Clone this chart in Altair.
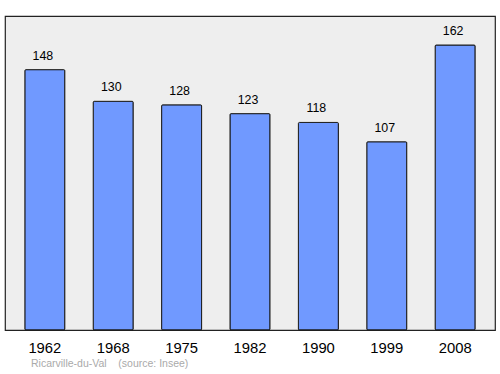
import altair as alt
import pandas as pd

years = ["1962", "1968", "1975", "1982", "1990", "1999", "2008"]
population = [148, 130, 128, 123, 118, 107, 162]
footer = "Ricarville-du-Val\u00a0\u00a0\u00a0\u00a0(source: Insee)"

df = pd.DataFrame({"year": years, "pop": population})

W, H = 490, 314

x = alt.X("year:N", sort=years,
          scale=alt.Scale(paddingInner=0.415, paddingOuter=0.29),
          axis=alt.Axis(title=None, labelAngle=0, domain=False, ticks=False,
                        labelPadding=10, labelFontSize=14.8, labelColor="#000000",
                        labelFont="Liberation Sans", labelFontWeight="normal"))
y = alt.Y("pop:Q", scale=alt.Scale(domain=[0, 178.5], nice=False, zero=True),
          axis=None)

bars = alt.Chart(df).mark_bar(color="#7099ff", stroke="#1a1a1a", strokeWidth=1,
                              cornerRadius=1).encode(x=x, y=y)
labels = alt.Chart(df).mark_text(baseline="alphabetic", dy=-10, dx=-2, fontSize=12.4,
                                 font="Liberation Sans", color="#000000").encode(
    x=x, y=y, text="pop:Q")
foot = alt.Chart(pd.DataFrame({"t": [footer]})).mark_text(
    align="left", baseline="middle", fontSize=10.5, font="Liberation Sans",
    color="#aaaaaa").encode(x=alt.value(26), y=alt.value(H + 34), text="t:N")

chart = alt.layer(bars, labels, foot).properties(
    width=W, height=H,
    padding={"left": 5, "top": 16, "right": 5, "bottom": 44},
    autosize=alt.AutoSizeParams(type="none"),
    background="#ffffff",
).configure_view(fill="#eeeeee", stroke="#222222", strokeWidth=1.2)

chart.save("out.html", embed_options={"renderer": "svg", "actions": False})
